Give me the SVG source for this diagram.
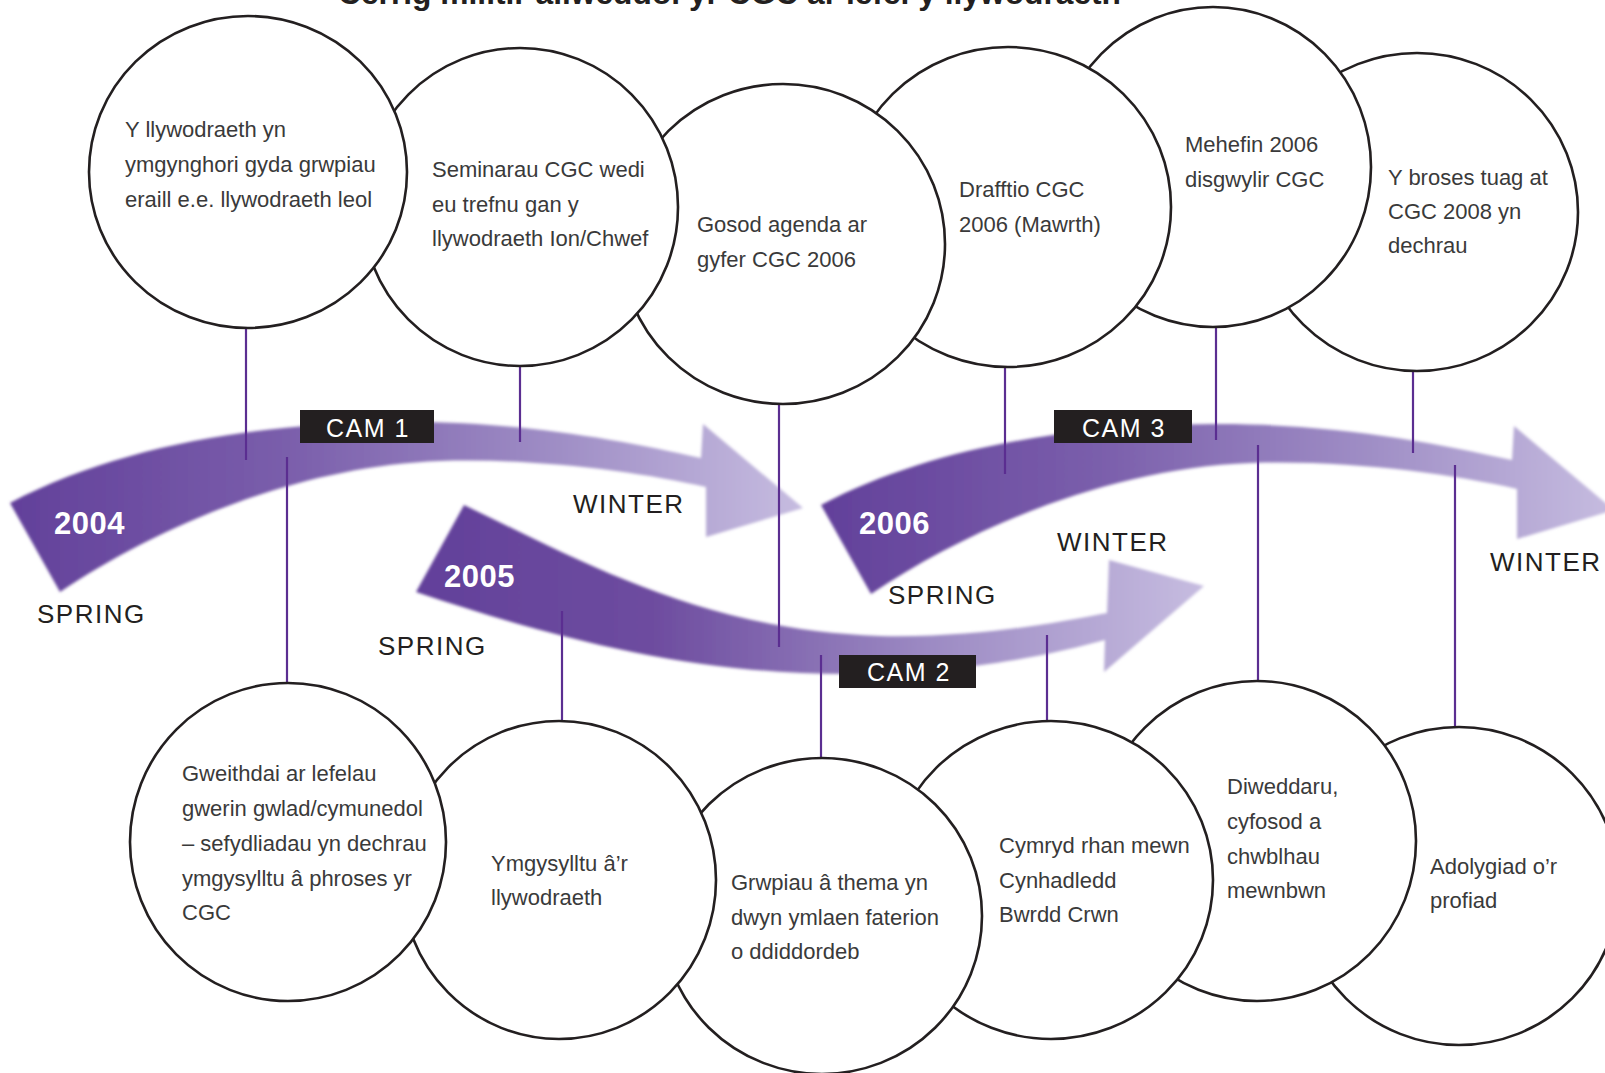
<svg xmlns="http://www.w3.org/2000/svg" width="1605" height="1073" viewBox="0 0 1605 1073">
<style>
.node ellipse{fill:#fff;stroke:#231f20;stroke-width:2.6}
.node text{font-family:"Liberation Sans",Arial,sans-serif;font-size:22px;fill:#3a3a3a}
.conn line{stroke:#5b2e91;stroke-width:2.2}
.cam rect{fill:#231f20}
.cam text{font-family:"Liberation Sans",Arial,sans-serif;font-size:25px;fill:#fff;letter-spacing:1.5px;text-anchor:middle}
.season{font-family:"Liberation Sans",Arial,sans-serif;font-size:26px;fill:#231f20;letter-spacing:1.5px}
.year{font-family:"Liberation Sans",Arial,sans-serif;font-size:31px;font-weight:bold;fill:#fff;letter-spacing:0.5px}
</style>
<defs>
<linearGradient id="gA" x1="0" y1="0" x2="1" y2="0">
<stop offset="0" stop-color="#62409a"/>
<stop offset="0.35" stop-color="#7a5eab"/>
<stop offset="0.7" stop-color="#a08fc6"/>
<stop offset="1" stop-color="#c6bce0"/>
</linearGradient>
<linearGradient id="gB" x1="0" y1="0" x2="1" y2="0">
<stop offset="0" stop-color="#62409a"/>
<stop offset="0.3" stop-color="#6d4c9f"/>
<stop offset="0.65" stop-color="#9c8ac3"/>
<stop offset="1" stop-color="#c6bce0"/>
</linearGradient>
<filter id="soft" x="-5%" y="-10%" width="110%" height="120%"><feGaussianBlur stdDeviation="1.6"/></filter>
<path id="arrowTop" d="M10,503 C120,445 260,423 400,422 C520,421 620,440 701,458 L703,424 L803,508 L706,537 L706,487 C640,472 540,458 440,461 C300,466 160,525 60,592 Z"/>
</defs>

<text x="729.5" y="4" text-anchor="middle" font-family="Liberation Sans, Arial, sans-serif" font-size="31" font-weight="bold" fill="#231f20" textLength="783" lengthAdjust="spacingAndGlyphs">Cerrig milltir allweddol yr CGC ar lefel y llywodraeth</text>

<g id="arrows" filter="url(#soft)">
<use href="#arrowTop" fill="url(#gA)"/>
<path d="M464,505 C580,560 700,630 880,636 C980,638 1060,622 1107,613 L1109,560 L1204,586 L1104,672 L1105,640 C1060,652 980,672 860,674 C700,676 560,640 416,592 Z" fill="url(#gB)"/>
<use href="#arrowTop" fill="url(#gA)" transform="translate(811,2)"/>
</g>

<g id="connectors" class="conn">
<line x1="246" y1="327" x2="246" y2="460"/>
<line x1="520" y1="365" x2="520" y2="442"/>
<line x1="779" y1="403" x2="779" y2="647"/>
<line x1="1005" y1="366" x2="1005" y2="474"/>
<line x1="1216" y1="326" x2="1216" y2="440"/>
<line x1="1413" y1="370" x2="1413" y2="453"/>
<line x1="287" y1="457" x2="287" y2="684"/>
<line x1="562" y1="611" x2="562" y2="722"/>
<line x1="821" y1="655" x2="821" y2="759"/>
<line x1="1047" y1="635" x2="1047" y2="722"/>
<line x1="1258" y1="445" x2="1258" y2="682"/>
<line x1="1455" y1="465" x2="1455" y2="728"/>
</g>

<g id="cam1" class="cam"><rect x="300" y="410" width="134" height="33"/><text x="368" y="436.5">CAM 1</text></g>
<g id="cam2" class="cam"><rect x="839" y="655" width="137" height="33"/><text x="909" y="680.5">CAM 2</text></g>
<g id="cam3" class="cam"><rect x="1054" y="410" width="138" height="33"/><text x="1124" y="436.5">CAM 3</text></g>

<g id="labels">
<text class="year" x="54" y="534">2004</text>
<text class="year" x="444" y="587">2005</text>
<text class="year" x="859" y="534">2006</text>
<text class="season" x="37" y="623">SPRING</text>
<text class="season" x="573" y="513">WINTER</text>
<text class="season" x="378" y="655">SPRING</text>
<text class="season" x="1057" y="551">WINTER</text>
<text class="season" x="888" y="604">SPRING</text>
<text class="season" x="1490" y="571">WINTER</text>
</g>

<g id="node-c6" class="node"><ellipse cx="1417" cy="212" rx="161" ry="159"/>
<text x="1388" y="185">Y broses tuag at</text><text x="1388" y="219">CGC 2008 yn</text><text x="1388" y="253">dechrau</text></g>
<g id="node-c5" class="node"><ellipse cx="1213" cy="167" rx="158" ry="160"/>
<text x="1185" y="152">Mehefin 2006</text><text x="1185" y="187">disgwylir CGC</text></g>
<g id="node-c4" class="node"><ellipse cx="1008" cy="207" rx="163" ry="160"/>
<text x="959" y="197">Drafftio CGC</text><text x="959" y="232">2006 (Mawrth)</text></g>
<g id="node-c3" class="node"><ellipse cx="783" cy="244" rx="162" ry="160"/>
<text x="697" y="232">Gosod agenda ar</text><text x="697" y="266.5">gyfer CGC 2006</text></g>
<g id="node-c2" class="node"><ellipse cx="520" cy="207" rx="158" ry="159"/>
<text x="432" y="176.5">Seminarau CGC wedi</text><text x="432" y="211.5">eu trefnu gan y</text><text x="432" y="246">llywodraeth Ion/Chwef</text></g>
<g id="node-c1" class="node"><ellipse cx="248" cy="172" rx="159" ry="156"/>
<text x="125" y="137">Y llywodraeth yn</text><text x="125" y="172">ymgynghori gyda grwpiau</text><text x="125" y="207">eraill e.e. llywodraeth leol</text></g>

<g id="node-b6" class="node"><ellipse cx="1459" cy="886" rx="160" ry="159"/>
<text x="1430" y="874">Adolygiad o’r</text><text x="1430" y="908">profiad</text></g>
<g id="node-b5" class="node"><ellipse cx="1257" cy="841" rx="159" ry="160"/>
<text x="1227" y="794">Diweddaru,</text><text x="1227" y="829">cyfosod a</text><text x="1227" y="863.5">chwblhau</text><text x="1227" y="898">mewnbwn</text></g>
<g id="node-b4" class="node"><ellipse cx="1051" cy="880" rx="162" ry="159"/>
<text x="999" y="853">Cymryd rhan mewn</text><text x="999" y="888">Cynhadledd</text><text x="999" y="922">Bwrdd Crwn</text></g>
<g id="node-b3" class="node"><ellipse cx="822" cy="916" rx="160" ry="158"/>
<text x="731" y="890">Grwpiau â thema yn</text><text x="731" y="925">dwyn ymlaen faterion</text><text x="731" y="958.5">o ddiddordeb</text></g>
<g id="node-b2" class="node"><ellipse cx="559" cy="880" rx="157" ry="159"/>
<text x="491" y="871">Ymgysylltu â’r</text><text x="491" y="905">llywodraeth</text></g>
<g id="node-b1" class="node"><ellipse cx="288" cy="842" rx="158" ry="159"/>
<text x="182" y="781">Gweithdai ar lefelau</text><text x="182" y="816">gwerin gwlad/cymunedol</text><text x="182" y="850.5">– sefydliadau yn dechrau</text><text x="182" y="885.5">ymgysylltu â phroses yr</text><text x="182" y="920">CGC</text></g>
</svg>
